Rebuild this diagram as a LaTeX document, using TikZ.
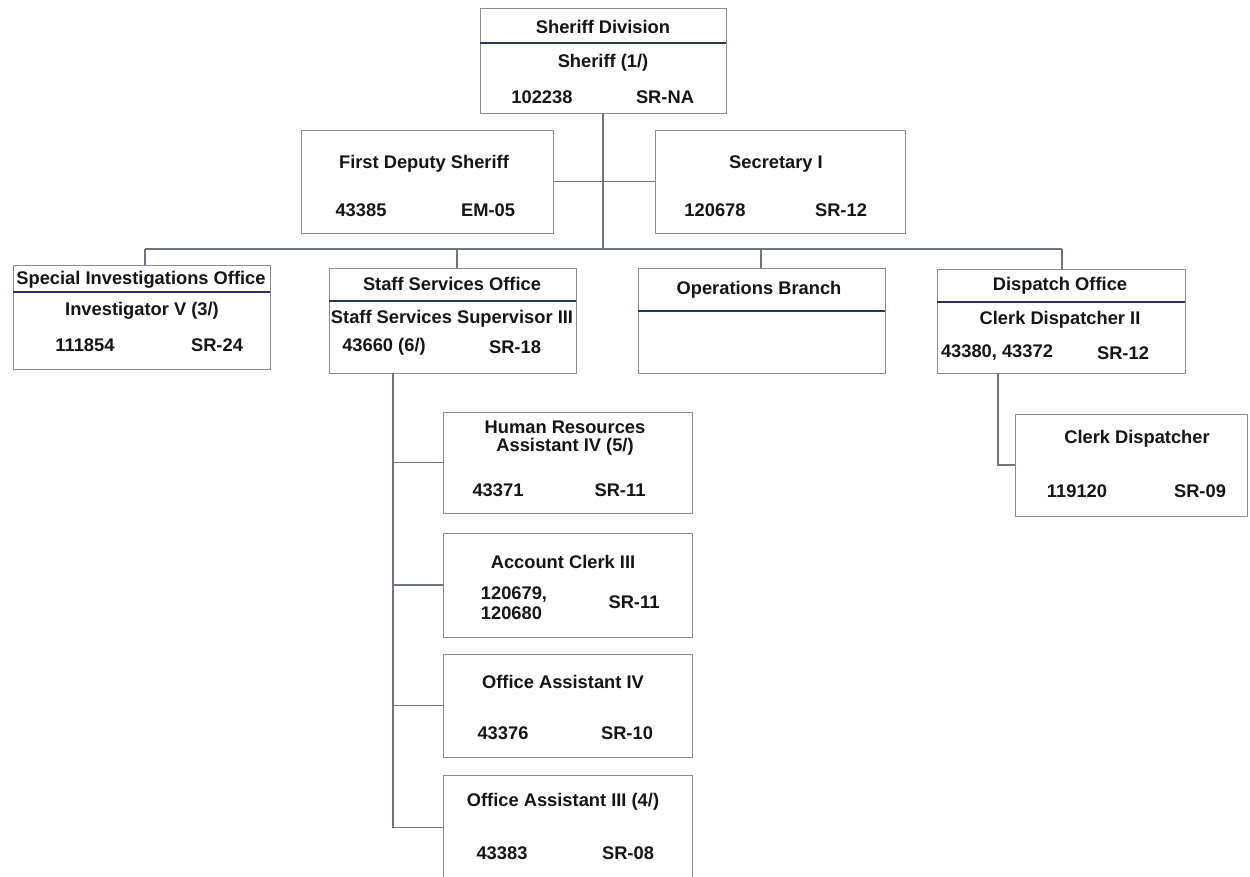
\documentclass[tikz,border=0pt]{standalone}
\usepackage{fontspec}
\setmainfont{Liberation Sans}
\definecolor{boxgray}{HTML}{8C8C8C}
\definecolor{linec}{HTML}{6E7380}
\definecolor{divc}{HTML}{26355F}
\definecolor{textc}{HTML}{151515}
\begin{document}
\begin{tikzpicture}[x=1pt,y=-1pt,
  box/.style={draw=boxgray, line width=1pt, fill=white, inner sep=0pt},
  lbl/.style={font=\fontsize{18.3}{20.5}\selectfont\bfseries, inner sep=0pt, text=textc},
  conn/.style={draw=linec, line width=1.2pt},
  divider/.style={draw=divc, line width=1.8pt}]
\useasboundingbox[fill=white] (0,0) rectangle (1250,876);
\clip (0,0) rectangle (1250,876);

% connector end points
\coordinate (busC) at (603,249);
\coordinate (dSIO) at (145,249);
\coordinate (dStaff) at (457,249);
\coordinate (dOps) at (761,249);
\coordinate (dDisp) at (1062,249);
\coordinate (sT) at (393,373);
\coordinate (dT) at (998,373);

% boxes
\node[box, minimum width=246pt, minimum height=105pt] (sheriff) at (603,60.5) {};
\node[box, minimum width=252pt, minimum height=103pt] (deputy) at (427,181.5) {};
\node[box, minimum width=250pt, minimum height=103pt] (secretary) at (780,181.5) {};
\node[box, minimum width=257pt, minimum height=104pt] (sio) at (141.5,317) {};
\node[box, minimum width=247pt, minimum height=105pt] (staff) at (452.5,320.5) {};
\node[box, minimum width=247pt, minimum height=105pt] (ops) at (761.5,320.5) {};
\node[box, minimum width=248pt, minimum height=104pt] (dispatch) at (1061,321) {};
\node[box, minimum width=232pt, minimum height=102pt] (clerk) at (1131,465) {};
\node[box, minimum width=249pt, minimum height=101pt] (hr) at (567.5,462.5) {};
\node[box, minimum width=249pt, minimum height=104pt] (acct) at (567.5,585) {};
\node[box, minimum width=249pt, minimum height=103pt] (oafour) at (567.5,705.5) {};
\node[box, minimum width=249pt, minimum height=105pt] (oathree) at (567.5,827.5) {};

\draw[conn] (sheriff.south) -- (busC);
\draw[conn] (deputy.east) -- (secretary.west);
\draw[conn] (dSIO) -- (dDisp);
\draw[conn] (dSIO) -- (dSIO |- sio.north);
\draw[conn] (dStaff) -- (dStaff |- staff.north);
\draw[conn] (dOps) -- (dOps |- ops.north);
\draw[conn] (dDisp) -- (dDisp |- dispatch.north);
\draw[conn] (sT) |- (oathree.west);
\draw[conn] (sT |- hr.west) -- (hr.west);
\draw[conn] (sT |- acct.west) -- (acct.west);
\draw[conn] (sT |- oafour.west) -- (oafour.west);
\draw[conn] (dT) |- (clerk.west);

% header dividers
\draw[divider] (480,43) -- (726,43);
\draw[divider] (13,292) -- (270,292);
\draw[divider] (329,301) -- (576,301);
\draw[divider] (638,311) -- (885,311);
\draw[divider] (937,302) -- (1185,302);

% texts
\node[lbl] (t1) at (603,27) {Sheriff Division};
\node[lbl] (t2) at (603,63) {Sheriff (1/)};
\node[lbl] (t3) at (542,97) {102238};
\node[lbl] (t4) at (665,97) {SR-NA};

\node[lbl] (t5) at (424,164) {First Deputy Sheriff};
\node[lbl] (t6) at (361,210) {43385};
\node[lbl] (t7) at (488,210) {EM-05};

\node[lbl] (t8) at (776,164) {Secretary I};
\node[lbl] (t9) at (715,210) {120678};
\node[lbl] (t10) at (841,210) {SR-12};

\node[lbl] (t11) at (141,280) {Special Investigations Office};
\node[lbl] (t12) at (142,311) {Investigator V (3/)};
\node[lbl] (t13) at (85,345) {111854};
\node[lbl] (t14) at (217,345) {SR-24};

\node[lbl] (t15) at (452,284) {Staff Services Office};
\node[lbl] (t16) at (452,319) {Staff Services Supervisor III};
\node[lbl] (t17) at (384,347) {43660 (6/)};
\node[lbl] (t18) at (515,347) {SR-18};

\node[lbl] (t19) at (759,290) {Operations Branch};

\node[lbl] (t20) at (1060,286) {Dispatch Office};
\node[lbl] (t21) at (1060,320) {Clerk Dispatcher II};
\node[lbl] (t22) at (997,353) {43380, 43372};
\node[lbl] (t23) at (1123,353) {SR-12};

\node[lbl] (t24) at (1137,439) {Clerk Dispatcher};
\node[lbl] (t25) at (1077,491) {119120};
\node[lbl] (t26) at (1200,491) {SR-09};

\node[lbl] (t27) at (565,427) {Human Resources};
\node[lbl] (t28) at (565,447) {Assistant IV (5/)};
\node[lbl] (t29) at (498,490) {43371};
\node[lbl] (t30) at (620,490) {SR-11};

\node[lbl] (t31) at (563,562) {Account Clerk III};
\node[lbl, align=left] (t32) at (514,603) {120679,\\120680};
\node[lbl] (t33) at (634,602) {SR-11};

\node[lbl] (t34) at (563,682) {Office Assistant IV};
\node[lbl] (t35) at (503,733) {43376};
\node[lbl] (t36) at (627,733) {SR-10};

\node[lbl] (t37) at (563,802) {Office Assistant III (4/)};
\node[lbl] (t38) at (502,853) {43383};
\node[lbl] (t39) at (628,853) {SR-08};
\end{tikzpicture}
\end{document}
